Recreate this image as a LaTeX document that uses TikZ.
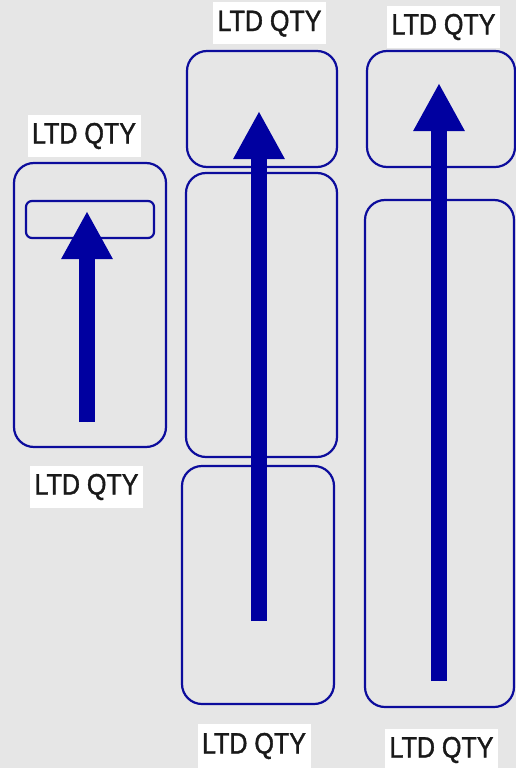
\documentclass[tikz,border=0pt]{standalone}
\usepackage{fontspec}
\setmainfont{Liberation Sans}
\newfontfamily\lblfont{Liberation Sans}[FakeStretch=0.85, FakeBold=1.3]
\usetikzlibrary{arrows.meta}
\definecolor{bg}{HTML}{E6E6E6}
\definecolor{boxblue}{HTML}{0C0C9C}
\definecolor{arrowblue}{HTML}{0000A0}
\begin{document}
\begin{tikzpicture}[x=1pt,y=-1pt,
  frame/.style={draw=boxblue, line width=2.2pt, rounded corners=20pt, inner sep=0pt, fill=none},
  smallframe/.style={draw=boxblue, line width=2.2pt, rounded corners=6pt, inner sep=0pt},
  lbl/.style={fill=white, inner sep=0pt, minimum width=113pt, minimum height=42pt,
    font=\lblfont\fontsize{29.5}{30}\selectfont, text=black!90},
  bigarrow/.style={draw=arrowblue, line width=16pt,
    -{Triangle[width=48pt,length=48pt]}, fill=arrowblue}]
\useasboundingbox (0,0) rectangle (516,768);
\fill[bg] (0,0) rectangle (516,768);
\begin{scope}
\clip (0,0) rectangle (516,768);
% left column
\node[frame, minimum width=152pt, minimum height=284pt] (lo) at (90,305) {};
\node[smallframe, minimum width=128pt, minimum height=37pt] (li) at (90,219.5) {};
\node[lbl] (lt) at (84,136) {LTD QTY};
\node[lbl] (lb) at (86.5,487) {LTD QTY};
% middle column
\node[frame, minimum width=150pt, minimum height=116pt] (m1) at (262,109) {};
\node[frame, minimum width=151pt, minimum height=284pt] (m2) at (261.5,315) {};
\node[frame, minimum width=152pt, minimum height=238pt] (m3) at (258,585) {};
\node[lbl] (mt) at (269.5,23.5) {LTD QTY};
\node[lbl, minimum height=44pt] (mb) at (254,746) {LTD QTY};
% right column
\node[frame, minimum width=148pt, minimum height=116pt] (r1) at (441,109) {};
\node[frame, minimum width=149pt, minimum height=507pt] (r2) at (439.5,453.5) {};
\node[lbl] (rt) at (443.5,27) {LTD QTY};
\node[lbl] (rb) at (441.5,750) {LTD QTY};
% arrows
\coordinate (la0) at (87,422);
\coordinate (la1) at (87,211);
\coordinate (ma0) at (259,621);
\coordinate (ma1) at (259,111);
\coordinate (ra0) at (439,681);
\coordinate (ra1) at (439,83);
\draw[bigarrow] (la0) -- (la1);
\draw[bigarrow] (ma0) -- (ma1);
\draw[bigarrow] (ra0) -- (ra1);
\end{scope}
\end{tikzpicture}
\end{document}
